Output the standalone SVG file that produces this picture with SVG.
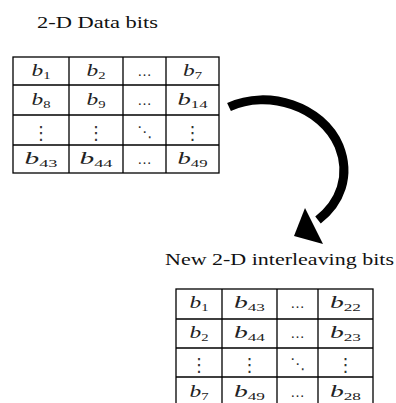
<svg xmlns="http://www.w3.org/2000/svg" width="396" height="403" viewBox="0 0 396 403">
<style>
.bg{fill:#fff}
.grid{fill:none;stroke:#000;stroke-width:1.3}
.title{font-family:"Liberation Serif",serif;font-size:16.5px;fill:#111}
.cell{font-family:"Liberation Serif",serif;font-size:16px;fill:#222;text-anchor:middle}
.i{font-style:italic}
.sub{font-size:10px}
.dots{font-family:"DejaVu Sans",sans-serif;font-size:18px;fill:#333;text-anchor:middle}
.diag{font-family:"DejaVu Sans",sans-serif;font-size:15px;fill:#333;text-anchor:middle}
.ell{font-family:"Liberation Serif",serif;font-size:14px;fill:#222;text-anchor:middle}
.shaft{fill:none;stroke:#000;stroke-width:9}
</style>
<rect class="bg" x="0" y="0" width="396" height="403"/>

<g id="title1">
<text class="title" x="37" y="28" textLength="121" lengthAdjust="spacingAndGlyphs">2-D Data bits</text>
</g>

<g id="table1">
<rect class="grid" x="13" y="57" width="206" height="116"/>
<path class="grid" d="M69,57V173M123,57V173M166,57V173M13,85H219M13,115H219M13,145H219"/>
<text class="cell" x="41" y="76" textLength="19" lengthAdjust="spacingAndGlyphs"><tspan class="i">b</tspan><tspan class="sub" dy="3">1</tspan></text>
<text class="cell" x="96" y="76" textLength="19" lengthAdjust="spacingAndGlyphs"><tspan class="i">b</tspan><tspan class="sub" dy="3">2</tspan></text>
<text class="ell" x="144.5" y="76">…</text>
<text class="cell" x="192.5" y="76" textLength="19" lengthAdjust="spacingAndGlyphs"><tspan class="i">b</tspan><tspan class="sub" dy="3">7</tspan></text>
<text class="cell" x="41" y="105" textLength="19" lengthAdjust="spacingAndGlyphs"><tspan class="i">b</tspan><tspan class="sub" dy="3">8</tspan></text>
<text class="cell" x="96" y="105" textLength="19" lengthAdjust="spacingAndGlyphs"><tspan class="i">b</tspan><tspan class="sub" dy="3">9</tspan></text>
<text class="ell" x="144.5" y="105">…</text>
<text class="cell" x="192.5" y="105" textLength="30" lengthAdjust="spacingAndGlyphs"><tspan class="i">b</tspan><tspan class="sub" dy="3">14</tspan></text>
<text class="dots" x="41" y="139">⋮</text>
<text class="dots" x="96" y="139">⋮</text>
<text class="diag" x="144.5" y="137">⋱</text>
<text class="dots" x="192.5" y="139">⋮</text>
<text class="cell" x="41" y="164" textLength="33" lengthAdjust="spacingAndGlyphs"><tspan class="i">b</tspan><tspan class="sub" dy="3">43</tspan></text>
<text class="cell" x="96" y="164" textLength="33" lengthAdjust="spacingAndGlyphs"><tspan class="i">b</tspan><tspan class="sub" dy="3">44</tspan></text>
<text class="ell" x="144.5" y="164">…</text>
<text class="cell" x="192.5" y="164" textLength="30" lengthAdjust="spacingAndGlyphs"><tspan class="i">b</tspan><tspan class="sub" dy="3">49</tspan></text>
</g>

<g id="connectors">
<path class="shaft" d="M229,107 C268,89 322,106 339,146 C351,176 340,203 318,220"/>
<polygon points="294,236 305,208 323,244"/>
</g>

<g id="title2">
<text class="title" x="165" y="265" textLength="229" lengthAdjust="spacingAndGlyphs">New 2-D interleaving bits</text>
</g>

<g id="table2">
<rect class="grid" x="176" y="289" width="197" height="120"/>
<path class="grid" d="M222,289V409M277,289V409M318,289V409M176,319H373M176,348H373M176,377H373"/>
<text class="cell" x="199" y="308" textLength="19" lengthAdjust="spacingAndGlyphs"><tspan class="i">b</tspan><tspan class="sub" dy="3">1</tspan></text>
<text class="cell" x="249.5" y="308" textLength="31" lengthAdjust="spacingAndGlyphs"><tspan class="i">b</tspan><tspan class="sub" dy="3">43</tspan></text>
<text class="ell" x="297.5" y="308">…</text>
<text class="cell" x="345.5" y="308" textLength="31" lengthAdjust="spacingAndGlyphs"><tspan class="i">b</tspan><tspan class="sub" dy="3">22</tspan></text>
<text class="cell" x="199" y="338" textLength="19" lengthAdjust="spacingAndGlyphs"><tspan class="i">b</tspan><tspan class="sub" dy="3">2</tspan></text>
<text class="cell" x="249.5" y="338" textLength="31" lengthAdjust="spacingAndGlyphs"><tspan class="i">b</tspan><tspan class="sub" dy="3">44</tspan></text>
<text class="ell" x="297.5" y="338">…</text>
<text class="cell" x="345.5" y="338" textLength="31" lengthAdjust="spacingAndGlyphs"><tspan class="i">b</tspan><tspan class="sub" dy="3">23</tspan></text>
<text class="dots" x="199" y="371">⋮</text>
<text class="dots" x="249.5" y="371">⋮</text>
<text class="diag" x="297.5" y="369">⋱</text>
<text class="dots" x="345.5" y="371">⋮</text>
<text class="cell" x="199" y="397" textLength="19" lengthAdjust="spacingAndGlyphs"><tspan class="i">b</tspan><tspan class="sub" dy="3">7</tspan></text>
<text class="cell" x="249.5" y="397" textLength="31" lengthAdjust="spacingAndGlyphs"><tspan class="i">b</tspan><tspan class="sub" dy="3">49</tspan></text>
<text class="ell" x="297.5" y="397">…</text>
<text class="cell" x="345.5" y="397" textLength="31" lengthAdjust="spacingAndGlyphs"><tspan class="i">b</tspan><tspan class="sub" dy="3">28</tspan></text>
</g>
</svg>
